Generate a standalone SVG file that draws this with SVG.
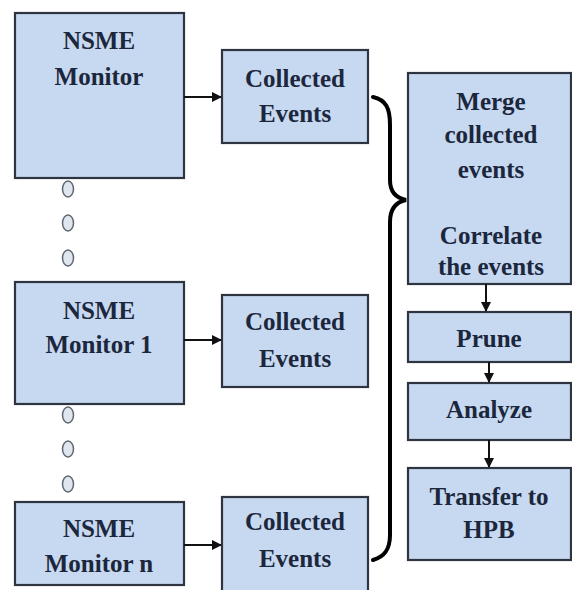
<svg xmlns="http://www.w3.org/2000/svg" width="572" height="590" viewBox="0 0 572 590">
<defs>
<style>
.box{fill:#c6d9f0;stroke:#2e3440;stroke-width:2.2}
.t{font-weight:bold;font-size:25px;fill:#1c263c;text-anchor:middle}
.dot{fill:#dfe6ee;stroke:#5f6770;stroke-width:1.5}
.ln{stroke:#111;stroke-width:2;fill:none}
.brace{stroke:#000;stroke-width:4;fill:none;stroke-linecap:round}
</style>
<marker id="ah" markerWidth="10" markerHeight="10" refX="9" refY="5" orient="auto" markerUnits="userSpaceOnUse">
<path d="M0,0 L10,5 L0,10 Z" fill="#111"/>
</marker>
</defs>
<rect width="572" height="590" fill="#ffffff"/>

<g font-family="'Liberation Serif', 'DejaVu Serif', serif">
<g id="monitor">
<rect class="box" x="15" y="13" width="169" height="165"/>
<text class="t" x="99" y="49">NSME</text>
<text class="t" x="99" y="85">Monitor</text>
</g>
<g id="events1">
<rect class="box" x="222" y="50" width="146" height="93"/>
<text class="t" x="295" y="87">Collected</text>
<text class="t" x="295" y="122">Events</text>
</g>
<g id="monitor1">
<rect class="box" x="15" y="282" width="169" height="122"/>
<text class="t" x="99" y="319">NSME</text>
<text class="t" x="99" y="353">Monitor 1</text>
</g>
<g id="events2">
<rect class="box" x="222" y="295" width="146" height="92"/>
<text class="t" x="295" y="330">Collected</text>
<text class="t" x="295" y="367">Events</text>
</g>
<g id="monitorn">
<rect class="box" x="15" y="502" width="169" height="83"/>
<text class="t" x="99" y="537">NSME</text>
<text class="t" x="99" y="572">Monitor n</text>
</g>
<g id="events3">
<rect class="box" x="222" y="497" width="146" height="100"/>
<text class="t" x="295" y="530">Collected</text>
<text class="t" x="295" y="567">Events</text>
</g>
<g id="merge">
<rect class="box" x="408" y="73" width="163" height="211"/>
<text class="t" x="491" y="110">Merge</text>
<text class="t" x="491" y="143">collected</text>
<text class="t" x="491" y="178">events</text>
<text class="t" x="491" y="244">Correlate</text>
<text class="t" x="491" y="275">the events</text>
</g>
<g id="prune">
<rect class="box" x="408" y="312" width="163" height="50"/>
<text class="t" x="489" y="347">Prune</text>
</g>
<g id="analyze">
<rect class="box" x="408" y="383" width="163" height="57"/>
<text class="t" x="489" y="418">Analyze</text>
</g>
<g id="transfer">
<rect class="box" x="408" y="468" width="163" height="92"/>
<text class="t" x="489" y="505">Transfer to</text>
<text class="t" x="489" y="538">HPB</text>
</g>
</g>
<g id="dots">
<ellipse class="dot" cx="68" cy="189" rx="5.5" ry="8"/>
<ellipse class="dot" cx="68" cy="223" rx="5.5" ry="8"/>
<ellipse class="dot" cx="68" cy="258" rx="5.5" ry="8"/>
<ellipse class="dot" cx="68" cy="415" rx="5.5" ry="8"/>
<ellipse class="dot" cx="68" cy="449" rx="5.5" ry="8"/>
<ellipse class="dot" cx="68" cy="484" rx="5.5" ry="8"/>
</g>
<g id="connectors">
<line class="ln" x1="184" y1="97" x2="221" y2="97" marker-end="url(#ah)"/>
<line class="ln" x1="184" y1="340" x2="221" y2="340" marker-end="url(#ah)"/>
<line class="ln" x1="184" y1="545" x2="221" y2="545" marker-end="url(#ah)"/>
<line class="ln" x1="486" y1="284" x2="486" y2="311" marker-end="url(#ah)"/>
<line class="ln" x1="489" y1="362" x2="489" y2="382" marker-end="url(#ah)"/>
<line class="ln" x1="489" y1="440" x2="489" y2="467" marker-end="url(#ah)"/>
<path class="brace" d="M373,97 C386,100 390,108 390,125 L390,180 C390,192 396,198 406,200 C396,202 390,208 390,222 L390,535 C390,550 384,557 373,560"/>
</g>
</svg>
